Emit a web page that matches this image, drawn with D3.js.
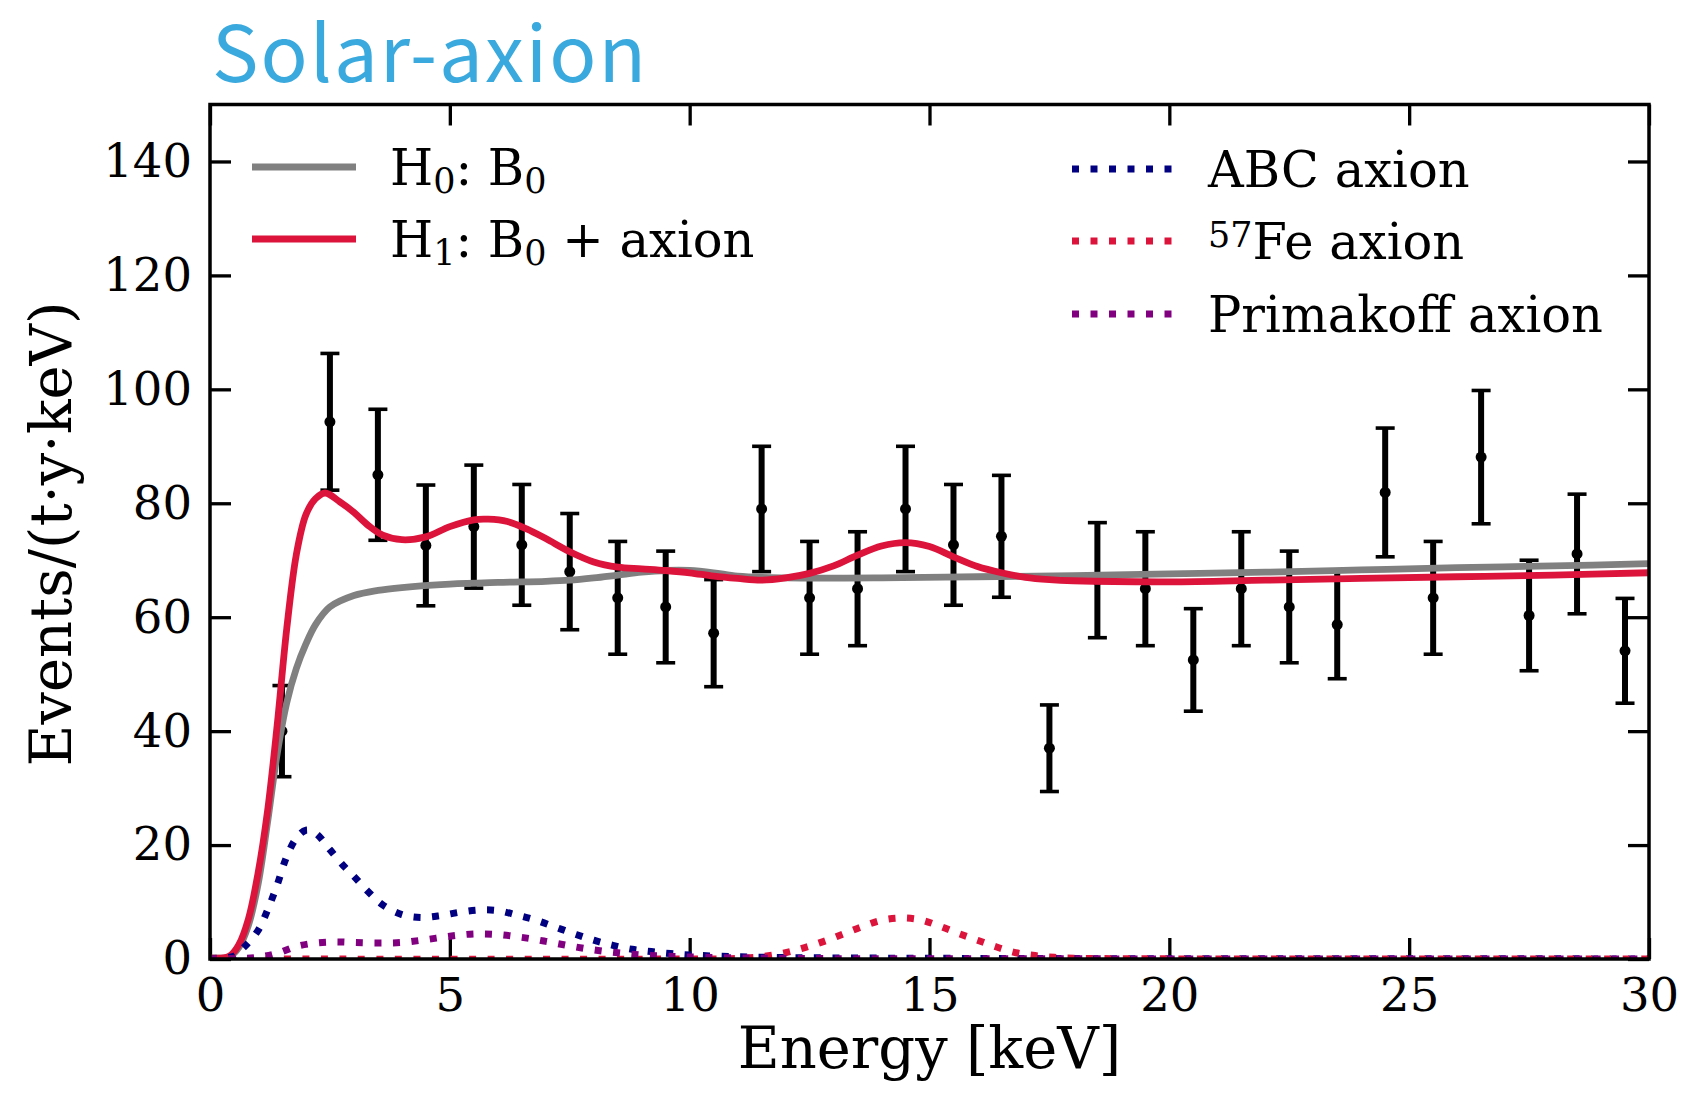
<!DOCTYPE html>
<html>
<head>
<meta charset="utf-8">
<script src="https://cdn.jsdelivr.net/npm/d3@7"></script>
<style>
  html, body { margin: 0; padding: 0; background: #ffffff; }
  svg { display: block; }
  .tick text { font-family: "DejaVu Serif", serif; font-size: 46.5px; fill: #000; }
  .tick line { stroke: #000; stroke-width: 3.3px; }
</style>
</head>
<body>
<svg id="chart" width="1691" height="1096"></svg>
<script>
// Binned spectrum: bin centres, event rates and 1-sigma errors
const binCenters = [1.5, 2.5, 3.5, 4.5, 5.5, 6.5, 7.5, 8.5, 9.5, 10.5, 11.5, 12.5, 13.5, 14.5, 15.5,
                    16.5, 17.5, 18.5, 19.5, 20.5, 21.5, 22.5, 23.5, 24.5, 25.5, 26.5, 27.5, 28.5, 29.5];
const binRates = [40.0, 94.3, 85.0, 72.6, 75.9, 72.7, 68.0, 63.4, 61.8, 57.2, 79.0, 63.4, 65.0, 79.0, 72.7,
                  74.2, 37.0, 66.5, 65.0, 52.5, 65.0, 61.8, 58.7, 81.9, 63.4, 88.1, 60.3, 71.1, 54.1];
const binErrors = [8.0, 12.0, 11.5, 10.6, 10.8, 10.6, 10.2, 9.9, 9.8, 9.4, 11.0, 9.9, 10.0, 11.0, 10.6,
                   10.7, 7.6, 10.1, 10.0, 9.0, 10.0, 9.8, 9.5, 11.3, 9.9, 11.7, 9.7, 10.5, 9.2];

// H0: background-only model B0
const h0Energy = [0, 0.4, 0.6, 0.8, 1.0, 1.2, 1.4, 1.6, 1.8, 2.0, 2.2, 2.5, 3.0, 3.5, 4.0, 5.0, 6.0, 7.0,
                  7.5, 8.0, 8.5, 9.0, 9.5, 10.0, 10.5, 11.0, 12, 14, 16, 18, 20, 22, 24, 26, 28, 30];
const h0Rate = [0.2, 0.4, 2.0, 5.9, 13.0, 24.0, 36.0, 45.0, 51.0, 55.3, 58.7, 61.8, 63.8, 64.7, 65.2, 65.8, 66.1, 66.3,
                66.5, 66.9, 67.4, 67.9, 68.2, 68.2, 67.8, 67.2, 66.9, 66.9, 67.1, 67.3, 67.6, 67.9, 68.3, 68.7, 69.0, 69.4];

// H1: B0 + axion model
const h1Energy = [0, 0.4, 0.6, 0.8, 1.0, 1.2, 1.4, 1.6, 1.8, 2.0, 2.2, 2.4, 2.7, 3.0, 3.3, 3.6, 4.0, 4.5,
                  5.0, 5.5, 5.8, 6.2, 6.6, 7.0, 7.5, 8.0, 8.5, 9.0, 9.5, 10.0, 10.5, 11.0, 11.5, 12.0,
                  12.5, 13.0, 13.5, 14.0, 14.5, 15.0, 15.5, 16.0, 16.5, 17.0, 17.5, 18.0, 20, 22, 24, 26, 28, 30];
const h1Rate = [0.2, 0.5, 2.5, 7.0, 15.0, 26.0, 41.0, 58.0, 71.0, 78.0, 80.8, 81.8, 80.3, 78.4, 76.1, 74.4, 73.6, 74.1,
                75.9, 77.1, 77.2, 76.8, 75.5, 73.8, 71.5, 69.7, 68.8, 68.5, 68.2, 67.8, 67.2, 66.8, 66.5, 66.9,
                67.7, 69.0, 70.9, 72.5, 73.1, 72.4, 70.6, 68.9, 67.8, 67.0, 66.6, 66.4, 66.2, 66.5, 66.8, 67.1, 67.4, 67.8];

// Axion signal components
const abcEnergy = [0, 0.5, 0.7, 1.0, 1.2, 1.4, 1.6, 1.8, 2.0, 2.2, 2.5, 2.8, 3.0, 3.3, 3.6, 4.0, 4.4, 4.8,
                   5.2, 5.6, 6.0, 6.4, 6.8, 7.2, 7.6, 8.0, 8.4, 8.8, 9.2, 9.6, 10, 11, 12, 14, 16, 20, 30];
const abcRate = [0.1, 0.5, 2.0, 5.0, 8.6, 13.0, 18.0, 21.2, 22.6, 22.1, 19.2, 16.2, 14.5, 11.8, 9.5, 7.8, 7.3, 7.6,
                 8.2, 8.6, 8.5, 7.7, 6.8, 5.6, 4.4, 3.3, 2.4, 1.7, 1.3, 0.95, 0.7, 0.4, 0.25, 0.15, 0.1, 0.05, 0.02];

const feEnergy = [0, 10, 11, 11.5, 12.0, 12.4, 12.8, 13.2, 13.6, 14.0, 14.4, 14.8, 15.2, 15.6, 16.0,
                  16.4, 16.8, 17.2, 17.6, 18, 19, 30];
const feRate = [0, 0, 0.1, 0.4, 1.1, 2.0, 3.1, 4.4, 5.7, 6.8, 7.2, 6.9, 5.8, 4.5, 3.3,
                2.1, 1.1, 0.6, 0.3, 0.15, 0.05, 0];

const primEnergy = [0, 0.5, 1.0, 1.4, 1.8, 2.2, 2.6, 3.0, 3.5, 4.0, 4.5, 5.0, 5.5, 6.0, 6.5, 7.0,
                    7.5, 8.0, 8.5, 9.0, 9.5, 10, 11, 12, 14, 30];
const primRate = [0, 0, 0.3, 1.0, 2.2, 2.8, 3.0, 2.9, 2.8, 2.9, 3.4, 4.0, 4.4, 4.3, 3.8, 3.1,
                  2.3, 1.6, 1.1, 0.7, 0.5, 0.35, 0.2, 0.1, 0.05, 0];

const xTicks = [0, 5, 10, 15, 20, 25, 30];
const yTicks = [0, 20, 40, 60, 80, 100, 120, 140];

const svg = d3.select("#chart");
const margin = { top: 104.5, right: 42, bottom: 137, left: 210 };
const W = 1691 - margin.left - margin.right;
const H = 1096 - margin.top - margin.bottom;

const x = d3.scaleLinear().domain([0, 30]).range([0, W]);
const y = d3.scaleLinear().domain([0, 150]).range([H, 0]);

const g = svg.append("g").attr("transform", `translate(${margin.left},${margin.top})`);

// clip so curves stay inside the frame
svg.append("defs").append("clipPath").attr("id", "plotClip")
  .append("rect").attr("x", 0).attr("y", 0).attr("width", W).attr("height", H);

// Axes with inward ticks on all four sides
const tickLen = 21;
g.append("g").attr("transform", `translate(0,${H})`)
  .call(d3.axisBottom(x).tickValues(xTicks).tickSize(-tickLen).tickPadding(19).tickFormat(d3.format("d")))
  .call(a => a.select(".domain").remove());
g.append("g")
  .call(d3.axisTop(x).tickValues(xTicks).tickSize(-tickLen).tickFormat(""))
  .call(a => a.select(".domain").remove());
g.append("g")
  .call(d3.axisLeft(y).tickValues(yTicks).tickSize(-tickLen).tickPadding(18).tickFormat(d3.format("d")))
  .call(a => a.select(".domain").remove());
g.append("g").attr("transform", `translate(${W},0)`)
  .call(d3.axisRight(y).tickValues(yTicks).tickSize(-tickLen).tickFormat(""))
  .call(a => a.select(".domain").remove());

// Data points with error bars
const pts = binCenters.map((e, i) => ({ e, v: binRates[i], s: binErrors[i] }));
const eb = g.append("g").attr("clip-path", "url(#plotClip)");
const capW = 9.5;
eb.selectAll("line.bar").data(pts).join("line").attr("class", "bar")
  .attr("x1", d => x(d.e)).attr("x2", d => x(d.e))
  .attr("y1", d => y(d.v - d.s)).attr("y2", d => y(d.v + d.s))
  .attr("stroke", "#000").attr("stroke-width", 6);
eb.selectAll("line.capTop").data(pts).join("line").attr("class", "capTop")
  .attr("x1", d => x(d.e) - capW).attr("x2", d => x(d.e) + capW)
  .attr("y1", d => y(d.v + d.s)).attr("y2", d => y(d.v + d.s))
  .attr("stroke", "#000").attr("stroke-width", 3.6);
eb.selectAll("line.capBot").data(pts).join("line").attr("class", "capBot")
  .attr("x1", d => x(d.e) - capW).attr("x2", d => x(d.e) + capW)
  .attr("y1", d => y(d.v - d.s)).attr("y2", d => y(d.v - d.s))
  .attr("stroke", "#000").attr("stroke-width", 3.6);
eb.selectAll("circle").data(pts).join("circle")
  .attr("cx", d => x(d.e)).attr("cy", d => y(d.v)).attr("r", 5.5).attr("fill", "#000");

// Model curves
const line = d3.line().x(d => x(d[0])).y(d => y(d[1])).curve(d3.curveCatmullRom.alpha(0.5));
const curves = g.append("g").attr("clip-path", "url(#plotClip)");
const zip = (a, b) => a.map((v, i) => [v, b[i]]);

const lw = 6.8;
const dotDash = "7,11.5";
const series = [
  { xs: h0Energy, ys: h0Rate, color: "#808080", dash: null },
  { xs: h1Energy, ys: h1Rate, color: "#dc143c", dash: null },
  { xs: abcEnergy, ys: abcRate, color: "#000080", dash: dotDash },
  { xs: feEnergy, ys: feRate, color: "#dc143c", dash: dotDash },
  { xs: primEnergy, ys: primRate, color: "#800080", dash: dotDash }
];
series.forEach(s => {
  curves.append("path").datum(zip(s.xs, s.ys))
    .attr("d", line).attr("fill", "none")
    .attr("stroke", s.color).attr("stroke-width", s.dash ? 7 : lw)
    .attr("stroke-dasharray", s.dash);
});

// Frame
g.append("rect").attr("x", 0).attr("y", 0).attr("width", W).attr("height", H)
  .attr("fill", "none").attr("stroke", "#000").attr("stroke-width", 3.5);

// Legends
const legSize = 49.5;
const smallSize = 35;
function legendRow(x0, x1, yy, color, dash, build) {
  svg.append("line").attr("x1", x0).attr("x2", x1).attr("y1", yy).attr("y2", yy)
    .attr("stroke", color).attr("stroke-width", dash ? 7 : lw).attr("stroke-dasharray", dash);
  const t = svg.append("text").attr("x", x1 + 34).attr("y", yy + 0.36 * legSize)
    .attr("font-family", "DejaVu Serif").attr("font-size", legSize).attr("fill", "#000");
  build(t);
}
const sub = (t, s) => t.append("tspan").attr("font-size", smallSize).attr("dy", 8).text(s);
const base = (t, s) => t.append("tspan").attr("dy", -8).text(s);

legendRow(252, 356, 167, "#808080", null, t => {
  t.append("tspan").text("H");
  sub(t, "0");
  base(t, ": B");
  sub(t, "0");
});
legendRow(252, 356, 239, "#dc143c", null, t => {
  t.append("tspan").text("H");
  sub(t, "1");
  base(t, ": B");
  sub(t, "0");
  base(t, " + axion");
});
legendRow(1072, 1174, 169, "#000080", dotDash, t => t.text("ABC axion"));
legendRow(1072, 1174, 241, "#dc143c", dotDash, t => {
  t.append("tspan").attr("font-size", smallSize).attr("dy", -12).text("57");
  t.append("tspan").attr("dy", 12).text("Fe axion");
});
legendRow(1072, 1174, 314, "#800080", dotDash, t => t.text("Primakoff axion"));

// Axis titles
svg.append("text").attr("x", margin.left + W / 2).attr("y", 1068)
  .attr("text-anchor", "middle").attr("font-family", "DejaVu Serif").attr("font-size", 57.5)
  .text("Energy [keV]");
svg.append("text").attr("transform", "translate(71,534) rotate(-90)")
  .attr("text-anchor", "middle").attr("font-family", "DejaVu Serif").attr("font-size", 57.5)
  .text("Events/(t·y·keV)");

// Panel title
svg.append("text").attr("x", 212).attr("y", 82)
  .attr("font-family", "Noto Sans CJK JP").attr("font-size", 78).attr("letter-spacing", 2)
  .attr("fill", "#3aa9de")
  .text("Solar-axion");
</script>
</body>
</html>
